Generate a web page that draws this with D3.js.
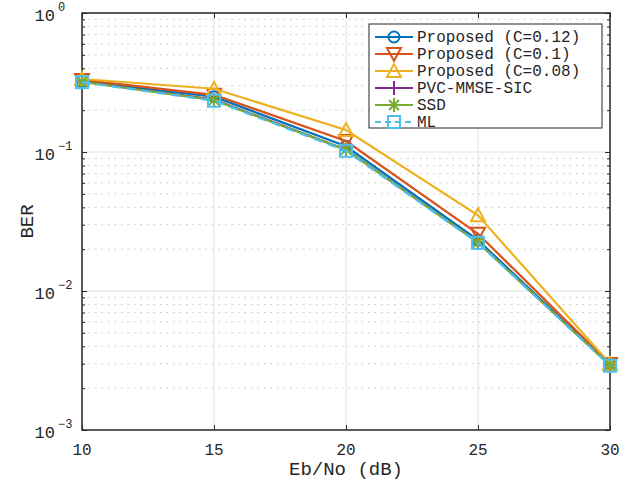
<!doctype html>
<html lang="en">
<head>
<meta charset="UTF-8">
<title>BER vs Eb/No</title>
<script src="https://cdn.jsdelivr.net/npm/d3@7"></script>
<style>
  body { margin: 0; background: #fff; }
  svg text { font-family: "Liberation Mono", "DejaVu Sans Mono", monospace; fill: #262626; }
</style>
</head>
<body>
<div id="chart"></div>
<script>
// x values (dB)
const ebno = [10, 15, 20, 25, 30];

// BER per curve
const berC012 = [0.322, 0.250, 0.110, 0.0232, 0.00295];
const berC010 = [0.330, 0.258, 0.120, 0.0258, 0.00298];
const berC008 = [0.335, 0.285, 0.144, 0.0350, 0.00300];
const berPvc  = [0.320, 0.238, 0.104, 0.0224, 0.00293];
const berSsd  = [0.320, 0.236, 0.104, 0.0224, 0.00292];
const berMl   = [0.318, 0.234, 0.102, 0.0222, 0.00290];

const seriesNames = ["Proposed (C=0.12)", "Proposed (C=0.1)", "Proposed (C=0.08)", "PVC-MMSE-SIC", "SSD", "ML"];
const xTicks = [10, 15, 20, 25, 30];
const yDecades = [0, -1, -2, -3];

const series = [
  { name: seriesNames[0], vals: berC012, color: "#0072BD", marker: "circle" },
  { name: seriesNames[1], vals: berC010, color: "#D95319", marker: "tridown" },
  { name: seriesNames[2], vals: berC008, color: "#EDB120", marker: "triup" },
  { name: seriesNames[3], vals: berPvc,  color: "#7E2F8E", marker: "plus" },
  { name: seriesNames[4], vals: berSsd,  color: "#77AC30", marker: "star" },
  { name: seriesNames[5], vals: berMl,   color: "#4DBEEE", marker: "square", dash: "9,6" }
];

const W = 632, H = 483;
const m = { left: 82, right: 22, top: 13, bottom: 53 };
const iw = W - m.left - m.right, ih = H - m.top - m.bottom;

const svg = d3.select("#chart").append("svg").attr("width", W).attr("height", H);
const g = svg.append("g").attr("transform", `translate(${m.left},${m.top})`);

const x = d3.scaleLinear().domain([10, 30]).range([0, iw]);
const y = d3.scaleLog().domain([1e-3, 1]).range([ih, 0]);

// minor dotted grid
const minors = [];
for (let e = -3; e < 0; e++) for (let k = 2; k <= 9; k++) minors.push(k * Math.pow(10, e));
g.selectAll(".ymin").data(minors).enter().append("line")
  .attr("x1", 0).attr("x2", iw).attr("y1", d => y(d)).attr("y2", d => y(d))
  .attr("stroke", "#c4c4c4").attr("stroke-width", 1).attr("stroke-dasharray", "1.5,5");

// major grid
g.selectAll(".xg").data(xTicks.slice(1, -1)).enter().append("line")
  .attr("x1", d => x(d)).attr("x2", d => x(d)).attr("y1", 0).attr("y2", ih)
  .attr("stroke", "#e0e0e0").attr("stroke-width", 1);
g.selectAll(".yg").data(yDecades.slice(1, -1)).enter().append("line")
  .attr("x1", 0).attr("x2", iw).attr("y1", d => y(Math.pow(10, d))).attr("y2", d => y(Math.pow(10, d)))
  .attr("stroke", "#e0e0e0").attr("stroke-width", 1);

// axes (ticks inside)
const axisCol = "#262626";
const bottomAx = g.append("g").attr("transform", `translate(0,${ih})`)
  .call(d3.axisBottom(x).tickValues(xTicks).tickSize(-5).tickFormat(""));
const topAx = g.append("g").call(d3.axisTop(x).tickValues(xTicks).tickSize(-5).tickFormat(""));
const leftAx = g.append("g").call(d3.axisLeft(y).tickValues(yDecades.map(d => Math.pow(10, d))).tickSize(-5).tickFormat(""));
const rightAx = g.append("g").attr("transform", `translate(${iw},0)`)
  .call(d3.axisRight(y).tickValues(yDecades.map(d => Math.pow(10, d))).tickSize(-5).tickFormat(""));
const leftMin = g.append("g").call(d3.axisLeft(y).tickValues(minors).tickSize(-3).tickFormat(""));
const rightMin = g.append("g").attr("transform", `translate(${iw},0)`)
  .call(d3.axisRight(y).tickValues(minors).tickSize(-3).tickFormat(""));
[bottomAx, topAx, leftAx, rightAx, leftMin, rightMin].forEach(a => {
  a.select(".domain").remove();
  a.selectAll("line").attr("stroke", axisCol);
});
g.append("rect").attr("width", iw).attr("height", ih)
  .attr("fill", "none").attr("stroke", axisCol).attr("stroke-width", 1.5);

// tick labels
g.selectAll(".xl").data(xTicks).enter().append("text")
  .attr("x", d => x(d)).attr("y", ih + 25).attr("text-anchor", "middle")
  .attr("font-size", 16).text(d => d);
yDecades.forEach(e => {
  g.append("text").attr("x", -27).attr("y", y(Math.pow(10, e)) + 8)
    .attr("text-anchor", "end").attr("font-size", 17).text("10");
  g.append("text").attr("x", -24).attr("y", y(Math.pow(10, e)) - 2)
    .attr("font-size", 12).text(e === 0 ? "0" : "\u2212" + (-e));
});

// axis titles
svg.append("text").attr("x", m.left + iw / 2).attr("y", H - 8)
  .attr("text-anchor", "middle").attr("font-size", 19).text("Eb/No (dB)");
svg.append("text").attr("transform", `translate(33,${m.top + ih / 2}) rotate(-90)`)
  .attr("text-anchor", "middle").attr("font-size", 19).text("BER");

// marker drawing
function drawMarker(sel, type, color) {
  if (type === "circle") {
    sel.append("circle").attr("r", 5.5).attr("fill", "none").attr("stroke", color).attr("stroke-width", 2);
  } else if (type === "tridown") {
    sel.append("path").attr("d", "M-7,-6L7,-6L0,7Z").attr("fill", "none").attr("stroke", color).attr("stroke-width", 2);
  } else if (type === "triup") {
    sel.append("path").attr("d", "M-7,6L7,6L0,-7Z").attr("fill", "none").attr("stroke", color).attr("stroke-width", 2);
  } else if (type === "plus") {
    sel.append("path").attr("d", "M-7,0L7,0M0,-7L0,7").attr("stroke", color).attr("stroke-width", 2);
  } else if (type === "star") {
    sel.append("path").attr("d", "M-7,0L7,0M0,-7L0,7M-5,-5L5,5M-5,5L5,-5").attr("stroke", color).attr("stroke-width", 2);
  } else if (type === "square") {
    sel.append("rect").attr("x", -6).attr("y", -6).attr("width", 12).attr("height", 12)
      .attr("fill", "none").attr("stroke", color).attr("stroke-width", 2);
  }
}

const line = d3.line().x(d => x(d[0])).y(d => y(d[1]));
series.forEach(s => {
  const pts = ebno.map((e, i) => [e, s.vals[i]]);
  g.append("path").datum(pts).attr("d", line).attr("fill", "none")
    .attr("stroke", s.color).attr("stroke-width", 2.2)
    .attr("stroke-dasharray", s.dash || null);
  pts.forEach(p => {
    const mk = g.append("g").attr("transform", `translate(${x(p[0])},${y(p[1])})`);
    drawMarker(mk, s.marker, s.color);
  });
});

// legend
const lg = svg.append("g").attr("transform", "translate(369,24)");
lg.append("rect").attr("width", 233).attr("height", 104).attr("fill", "#fff")
  .attr("stroke", axisCol).attr("stroke-width", 1);
series.forEach((s, i) => {
  const yy = 13 + i * 17;
  lg.append("line").attr("x1", 6).attr("x2", 44).attr("y1", yy).attr("y2", yy)
    .attr("stroke", s.color).attr("stroke-width", 2.2).attr("stroke-dasharray", s.dash ? "6,4" : null);
  drawMarker(lg.append("g").attr("transform", `translate(25,${yy})`), s.marker, s.color);
  lg.append("text").attr("x", 48).attr("y", yy + 5).attr("font-size", 16).text(s.name);
});
</script>
</body>
</html>
